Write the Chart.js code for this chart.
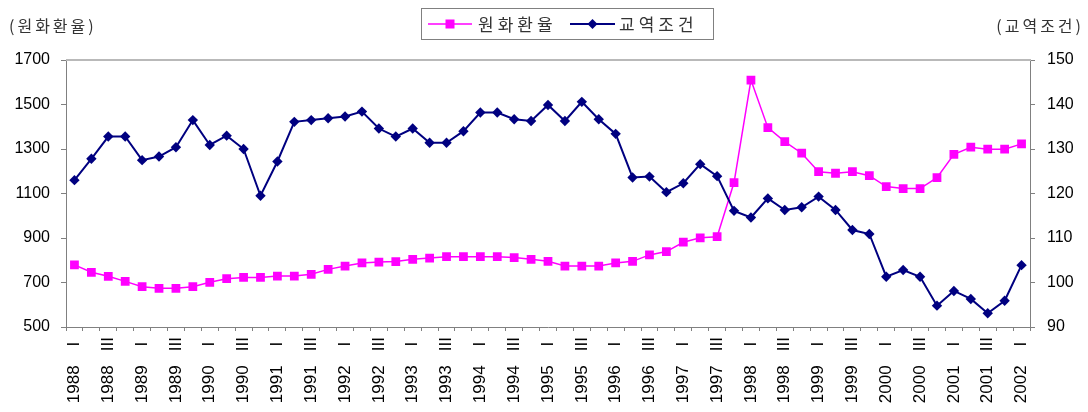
<!DOCTYPE html>
<html><head><meta charset="utf-8">
<script src="https://cdn.jsdelivr.net/npm/chart.js@4.4.1/dist/chart.umd.min.js"></script>
<style>html,body{margin:0;padding:0;background:#fff;}</style>
</head><body>
<canvas id="c" width="1088" height="412" style="display:block;width:1088px;height:412px"></canvas>
<script>
// ---- data ----
const years = [1988,1989,1990,1991,1992,1993,1994,1995,1996,1997,1998,1999,2000,2001,2002];
const quarterNames = ['I','II','III','IV'];
const categories = [];
years.forEach(y => quarterNames.forEach(q => { if (y < 2002 || q === 'I') categories.push(y + ' ' + q); }));

const wonRate = [779,746,728,705,681,674,674,681,701,717,
                 723,723,729,729,737,759,774,788,792,794,
                 804,810,816,816,816,816,812,804,795,774,
                 774,774,788,795,824,839,881,901,906,1149,
                 1610,1396,1333,1281,1198,1191,1198,1180,1131,1122,
                 1122,1171,1276,1308,1299,1299,1323];
const termsOfTrade = [123.0,127.8,132.8,132.8,127.5,128.3,130.4,136.5,130.9,133.0,
                      130.0,119.5,127.2,136.1,136.5,136.9,137.3,138.4,134.6,132.8,
                      134.6,131.4,131.4,134.0,138.2,138.2,136.7,136.3,139.9,136.3,
                      140.6,136.7,133.4,123.6,123.8,120.3,122.3,126.6,123.9,116.1,
                      114.6,118.9,116.3,116.9,119.3,116.3,111.8,110.9,101.3,102.8,
                      101.3,94.8,98.1,96.3,93.1,95.9,103.9];
const leftTicks = [500,700,900,1100,1300,1500,1700];
const rightTicks = [90,100,110,120,130,140,150];
const seriesNames = ['원화환율','교역조건'];
const leftTitle = '(원화환율)';
const rightTitle = '(교역조건)';

const PINK = '#ff00ff', NAVY = '#000080', AXIS = '#808080';
const tickFont = {family:'"Liberation Sans", Arial, sans-serif', size:16};

function xLabel(idx){
  const [y,q] = categories[idx].split(' ');
  const roman = q === 'I' ? ' I ' : q;
  return y + '   ' + roman;
}

const decor = {
  id:'decor',
  beforeDatasetsDraw(chart){
    const {ctx, chartArea:a} = chart;
    ctx.save();
    ctx.strokeStyle = '#b9b9b9'; ctx.lineWidth = 2;
    ctx.beginPath(); ctx.moveTo(a.left, a.top); ctx.lineTo(a.right+1, a.top); ctx.stroke();
    ctx.restore();
  },
  afterDraw(chart){
    const {ctx} = chart;
    ctx.save();
    ctx.font = '16px "Noto Sans CJK KR", sans-serif';
    ctx.fillStyle = '#333';
    ctx.textBaseline = 'middle';
    ctx.letterSpacing = '3px';
    ctx.textAlign = 'left'; ctx.fillText(leftTitle, 9, 26);
    ctx.textAlign = 'right'; ctx.fillText(rightTitle, 1084, 26);
    // legend
    ctx.letterSpacing = '0px';
    ctx.fillStyle = '#fff'; ctx.strokeStyle = AXIS; ctx.lineWidth = 1;
    ctx.fillRect(421, 8, 292, 31);
    ctx.strokeRect(421.5, 8.5, 292, 31);
    const ds = chart.data.datasets;
    const items = [{x0:428, x1:472, tx:478}, {x0:570, x1:615, tx:619}];
    ds.forEach((d, i) => {
      const it = items[i], cy = 24, cx = (it.x0 + it.x1)/2;
      ctx.strokeStyle = d.borderColor; ctx.lineWidth = d.borderWidth;
      ctx.beginPath(); ctx.moveTo(it.x0, cy); ctx.lineTo(it.x1, cy); ctx.stroke();
      ctx.fillStyle = d.pointBackgroundColor;
      if (d.pointStyle === 'rect') { ctx.fillRect(cx-4.5, cy-4.5, 9, 9); }
      else { ctx.beginPath(); ctx.moveTo(cx, cy-5); ctx.lineTo(cx+5, cy); ctx.lineTo(cx, cy+5); ctx.lineTo(cx-5, cy); ctx.closePath(); ctx.fill(); }
      ctx.font = '17px "Noto Sans CJK KR", sans-serif';
      ctx.fillStyle = '#333'; ctx.textAlign = 'left'; ctx.textBaseline = 'middle';
      ctx.letterSpacing = '4px';
      ctx.fillText(d.label, it.tx, cy + 1);
      ctx.letterSpacing = '0px';
    });
    ctx.restore();
  }
};

new Chart(document.getElementById('c'), {
  type:'line',
  data:{
    labels: categories,
    datasets:[
      {label:seriesNames[0], data:wonRate, yAxisID:'y', borderColor:PINK, backgroundColor:PINK,
       pointBackgroundColor:PINK, pointBorderColor:PINK, borderWidth:1.5, pointStyle:'rect', pointRadius:6.2, pointBorderWidth:0, tension:0, order:2},
      {label:seriesNames[1], data:termsOfTrade, yAxisID:'y1', borderColor:NAVY, backgroundColor:NAVY,
       pointBackgroundColor:NAVY, pointBorderColor:NAVY, borderWidth:2, pointStyle:'rectRot', pointRadius:5.2, pointBorderWidth:0, tension:0, order:1}
    ]
  },
  options:{
    responsive:false, animation:false, devicePixelRatio:1,
    layout:{padding:{top:60, left:0, right:0, bottom:0}},
    plugins:{legend:{display:false}, tooltip:{enabled:false}, title:{display:false}},
    scales:{
      x:{
        type:'category', offset:true,
        grid:{display:true, offset:true, drawOnChartArea:false, drawTicks:true, tickLength:4, color:AXIS},
        border:{display:true, color:AXIS, width:1},
        ticks:{autoSkip:false, maxRotation:90, minRotation:90, padding:6, color:'#000',
               font:{family:'"Liberation Sans", Arial, sans-serif', size:17},
               callback:(v, i) => i % 2 === 0 ? xLabel(i) : ''},
        afterFit:s => { s.height = 85; }
      },
      y:{
        position:'left', min:500, max:1700,
        afterBuildTicks:s => { s.ticks = leftTicks.map(v => ({value:v})); },
        grid:{drawOnChartArea:false, drawTicks:true, tickLength:5, color:AXIS},
        border:{display:true, color:AXIS, width:1},
        ticks:{padding:11, color:'#000', font:tickFont, callback:v => String(v)},
        afterFit:s => { s.width = 66; }
      },
      y1:{
        position:'right', min:90, max:150,
        afterBuildTicks:s => { s.ticks = rightTicks.map(v => ({value:v})); },
        grid:{drawOnChartArea:false, drawTicks:true, tickLength:5, color:AXIS},
        border:{display:true, color:AXIS, width:1},
        ticks:{padding:12, color:'#000', font:tickFont, callback:v => String(v)},
        afterFit:s => { s.width = 58; }
      }
    }
  },
  plugins:[decor]
});
</script>
</body></html>
